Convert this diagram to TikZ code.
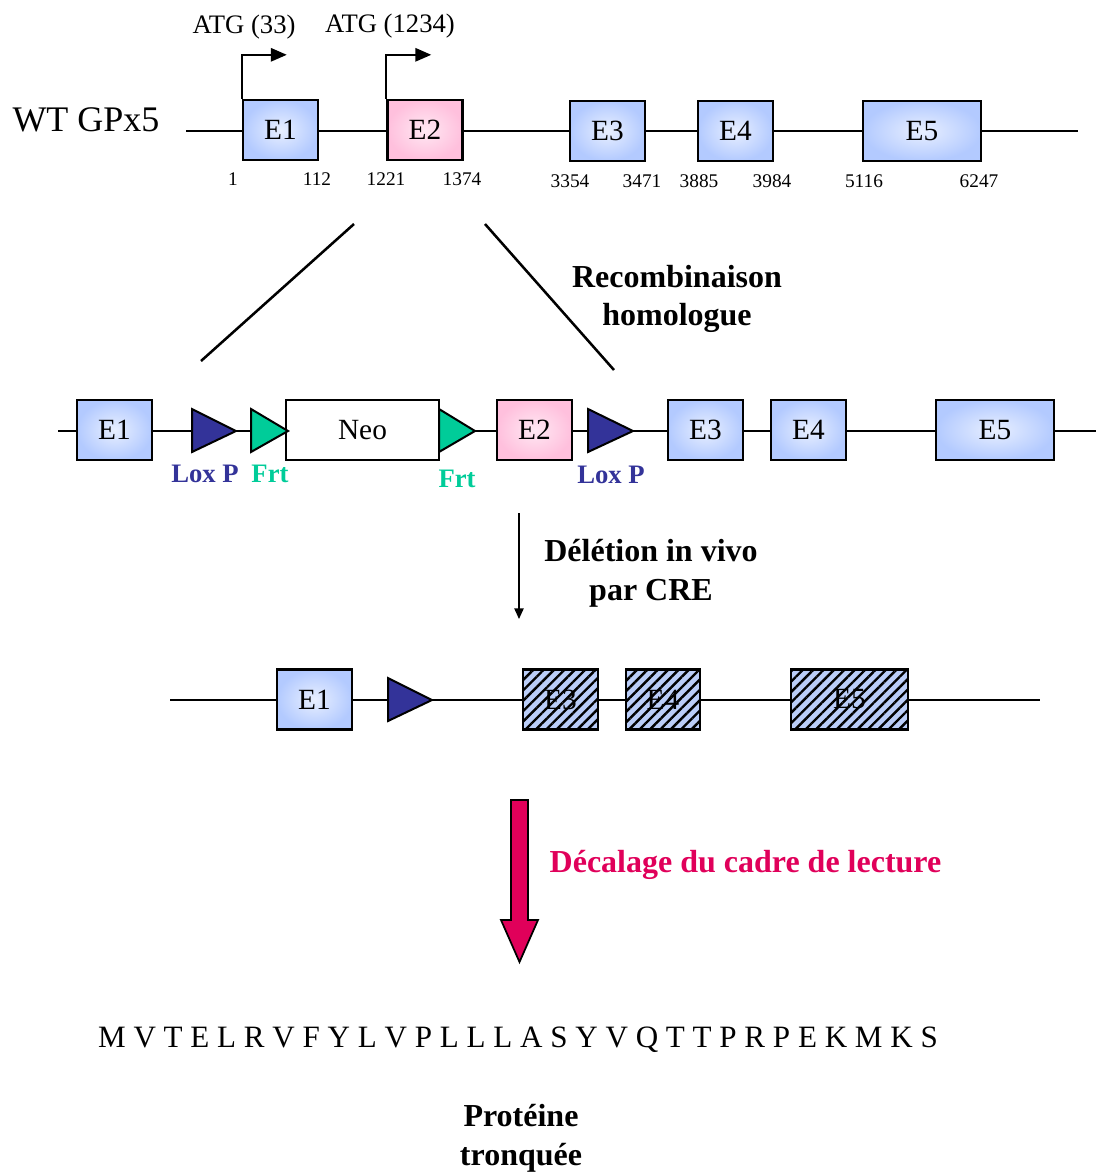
\documentclass[tikz,border=0pt]{standalone}
\usepackage{fontspec}
\setmainfont{Liberation Serif}
\usetikzlibrary{arrows.meta,patterns.meta}
\definecolor{bin}{HTML}{E8EFFF}
\definecolor{bout}{HTML}{B3CAFF}
\definecolor{pin}{HTML}{FFE8F3}
\definecolor{pout}{HTML}{FFC0DD}
\definecolor{loxc}{HTML}{333399}
\definecolor{frtc}{HTML}{00CC99}
\definecolor{redc}{HTML}{E0005A}
\definecolor{hatchc}{HTML}{BACDF8}
\begin{document}
\begin{tikzpicture}[x=0.75pt,y=-0.75pt,
  dna/.style={line width=1.9pt},
  exon/.style={draw, line width=1.8pt, inner color=bin, outer color=bout,
    minimum width=56.25pt, minimum height=45pt, inner sep=0pt,
    font=\fontsize{22}{26}\selectfont},
  pinkexon/.style={exon, inner color=pin, outer color=pout},
  hatchexon/.style={fill=hatchc, outer sep=0pt,
    minimum width=56.25pt, minimum height=45pt, inner sep=0pt,
    font=\fontsize{22}{26}\selectfont},
  num/.style={font=\fontsize{14.5}{17}\selectfont},
  lab/.style={font=\bfseries\fontsize{24}{29}\selectfont, align=center},
  small/.style={font=\bfseries\fontsize{20}{24}\selectfont},
  tri/.style={draw, line width=1.5pt, line join=miter},
  atg/.style={line width=1.6pt, -{Triangle[length=12pt,width=10pt]}},
  hatch/.style={pattern={Lines[angle=45,distance=5.5pt,line width=1.8pt]}, pattern color=black}
]
\useasboundingbox (0,0) rectangle (1096,1172);

% ---------- Row 1 : WT GPx5 ----------
\node[font=\fontsize{27}{31}\selectfont] (wt) at (86,120) {WT GPx5};
\coordinate (r1a) at (186,131);
\coordinate (r1b) at (1078,131);
\draw[dna] (r1a) -- (r1b);
\node[exon] (E1) at (280.5,130) {E1};
\node[pinkexon] (E2) at (425,130) {E2};
\node[exon] (E3) at (607.5,131) {E3};
\node[exon] (E4) at (735.5,131) {E4};
\node[exon, minimum width=88.5pt] (E5) at (922,131) {E5};

\draw[atg] (E1.north west) -- ++(0,-44) -- ++(45,0);
\draw[atg] (E2.north west) -- ++(0,-44) -- ++(45,0);
\node[font=\fontsize{20}{24}\selectfont] (atg1) at (244,27) {ATG (33)};
\node[font=\fontsize{20}{24}\selectfont] (atg2) at (390,26) {ATG (1234)};

\node[num] (n1) at (233,179) {1};
\node[num] (n2) at (317,179) {112};
\node[num] (n3) at (386,179) {1221};
\node[num] (n4) at (462,179) {1374};
\node[num] (n5) at (570,181) {3354};
\node[num] (n6) at (642,181) {3471};
\node[num] (n7) at (699,181) {3885};
\node[num] (n8) at (772,181) {3984};
\node[num] (n9) at (864,181) {5116};
\node[num] (n10) at (979,181) {6247};

% ---------- homologous recombination ----------
\coordinate (d1a) at (354,224);
\coordinate (d1b) at (201,361);
\coordinate (d2a) at (485,224);
\coordinate (d2b) at (614,370);
\draw[line width=1.9pt] (d1a) -- (d1b);
\draw[line width=1.9pt] (d2a) -- (d2b);
\node[lab] (rec) at (677,299) {Recombinaison\\homologue};

% ---------- Row 2 : targeted allele ----------
\coordinate (r2a) at (58,431);
\coordinate (r2b) at (1096,431);
\draw[dna] (r2a) -- (r2b);
\node[exon] (F1) at (114.5,430) {E1};
\draw[tri, fill=loxc] (192,409) -- (236,431) -- (192,452) -- cycle;
\node[draw, line width=1.8pt, fill=white, minimum width=114.75pt, minimum height=45pt,
  font=\fontsize{22}{26}\selectfont] (neo) at (362.5,430) {Neo};
\draw[tri, fill=frtc] (251,409) -- (288,431) -- (251,452) -- cycle;
\draw[tri, fill=frtc] (439,409) -- (475,431) -- (439,452) -- cycle;
\node[pinkexon] (F2) at (534.5,430) {E2};
\draw[tri, fill=loxc] (588,409) -- (633,431) -- (588,452) -- cycle;
\node[exon] (F3) at (705.5,430) {E3};
\node[exon] (F4) at (808.5,430) {E4};
\node[exon, minimum width=88.5pt] (F5) at (995,430) {E5};

\node[small, text=loxc] (lox1) at (205,474) {Lox P};
\node[small, text=frtc] (frt1) at (270,474) {Frt};
\node[small, text=frtc] (frt2) at (457,479) {Frt};
\node[small, text=loxc] (lox2) at (611,475) {Lox P};

% ---------- CRE deletion ----------
\coordinate (c1) at (519,513);
\coordinate (c2) at (519,619);
\draw[line width=1.1pt, -{Triangle[length=8pt,width=7pt]}] (c1) -- (c2);
\node[lab] (cre) at (651,573) {Délétion in vivo\\par CRE};

% ---------- Row 3 : deleted allele ----------
\coordinate (r3a) at (170,700);
\coordinate (r3b) at (1040,700);
\draw[dna] (r3a) -- (r3b);
\node[exon] (G1) at (314.5,699.5) {E1};
\draw[tri, fill=loxc] (388,678) -- (432,700) -- (388,721) -- cycle;
\node[hatchexon] (G3) at (560.5,699.5) {E3};
\node[hatchexon, minimum width=55.5pt] (G4) at (663,699.5) {E4};
\node[hatchexon, minimum width=87.75pt] (G5) at (849.5,699.5) {E5};
\foreach \n in {G3,G4,G5}{
  \fill[hatch] (\n.south west) rectangle (\n.north east);
  \draw[line width=1.8pt] (\n.south west) rectangle (\n.north east);
}

% ---------- frame shift ----------
\draw[line width=1.3pt, fill=redc, line join=miter]
  (511,800) -- (528,800) -- (528,920) -- (538,920) -- (519.5,962) -- (501,920) -- (511,920) -- cycle;
\node[lab, text=redc, anchor=west] (shift) at (545,865) {Décalage du cadre de lecture};

\node[font=\fontsize{23.3}{28}\selectfont] (seq) at (518,1040)
  {M V T E L R V F Y L V P L L L A S Y V Q T T P R P E K M K S};
\node[lab] (prot) at (521,1138) {Protéine\\tronquée};
\end{tikzpicture}
\end{document}
